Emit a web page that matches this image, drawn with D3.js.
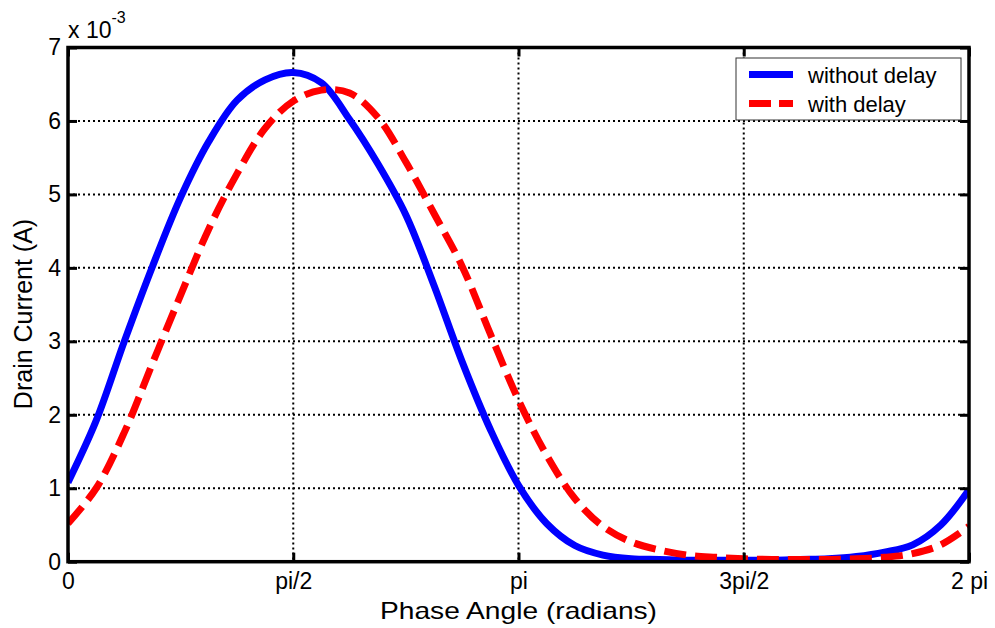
<!DOCTYPE html>
<html>
<head>
<meta charset="utf-8">
<script src="https://cdn.jsdelivr.net/npm/d3@7"></script>
<style>
  html, body { margin: 0; padding: 0; background: #fff; }
  svg { display: block; font-family: "Liberation Sans", Arial, sans-serif; }
</style>
</head>
<body>
<svg id="chart"></svg>
<script>
// phase angle in units of pi (sample points)
const phaseOverPi = [0, 0.0625, 0.125, 0.1875, 0.25, 0.3125, 0.375, 0.4375, 0.5,
  0.5625, 0.625, 0.6875, 0.75, 0.8125, 0.875, 0.9375, 1,
  1.0625, 1.125, 1.1875, 1.25, 1.3125, 1.375, 1.4375, 1.5,
  1.5625, 1.625, 1.6875, 1.75, 1.8125, 1.875, 1.9375, 2];

// drain current, x 10^-3 A
const withoutDelay = [1.08, 1.92, 3.0, 4.02, 4.96, 5.72, 6.28, 6.56, 6.66,
  6.52, 6.02, 5.42, 4.72, 3.76, 2.72, 1.8, 1.04,
  0.52, 0.22, 0.09, 0.04, 0.03, 0.02, 0.02, 0.02,
  0.02, 0.03, 0.04, 0.07, 0.13, 0.23, 0.5, 0.98];

const withDelay = [0.52, 1.0, 1.76, 2.7, 3.63, 4.53, 5.28, 5.9, 6.27,
  6.42, 6.38, 6.05, 5.44, 4.74, 4.02, 3.1, 2.2,
  1.45, 0.86, 0.48, 0.27, 0.16, 0.09, 0.06, 0.04,
  0.03, 0.03, 0.03, 0.04, 0.06, 0.11, 0.23, 0.48];

const xTicks = [0, 0.5, 1, 1.5, 2];
const xTickLabels = ["0", "pi/2", "pi", "3pi/2", "2 pi"];
const yTicks = [0, 1, 2, 3, 4, 5, 6, 7];

const seriesNames = ["without delay", "with delay"];

const width = 995;
const height = 628;
const margin = { top: 47.5, right: 26, bottom: 66.3, left: 68 };
const innerW = width - margin.left - margin.right;
const innerH = height - margin.top - margin.bottom;

const svg = d3.select("#chart").attr("width", width).attr("height", height);

const scaleX = d3.scaleLinear().domain([0, 2]).range([0, innerW]);
const scaleY = d3.scaleLinear().domain([0, 7]).range([innerH, 0]);

const g = svg.append("g")
    .attr("transform", `translate(${margin.left}, ${margin.top})`);

svg.append("defs").append("clipPath").attr("id", "plotClip")
  .append("rect").attr("x", 0).attr("y", 0).attr("width", innerW).attr("height", innerH);

// dotted grid
g.append("g").selectAll("line.gx")
  .data(xTicks.slice(1, -1))
  .enter().append("line")
  .attr("x1", d => scaleX(d)).attr("x2", d => scaleX(d))
  .attr("y1", 0).attr("y2", innerH)
  .attr("stroke", "#000").attr("stroke-width", 2).attr("stroke-dasharray", "2,3");

g.append("g").selectAll("line.gy")
  .data(yTicks.slice(1, -1))
  .enter().append("line")
  .attr("y1", d => scaleY(d)).attr("y2", d => scaleY(d))
  .attr("x1", 0).attr("x2", innerW)
  .attr("stroke", "#000").attr("stroke-width", 2).attr("stroke-dasharray", "2,3");

// curves
const lineGen = vals => d3.line()
  .x((d, i) => scaleX(phaseOverPi[i]))
  .y(d => scaleY(d))
  .curve(d3.curveCatmullRom.alpha(0.5))(vals);

const curves = g.append("g").attr("clip-path", "url(#plotClip)");

curves.append("path")
  .attr("d", lineGen(withoutDelay))
  .attr("fill", "none").attr("stroke", "#0000ff").attr("stroke-width", 7)
  .attr("stroke-linejoin", "round");

curves.append("path")
  .attr("d", lineGen(withDelay))
  .attr("fill", "none").attr("stroke", "#ff0000").attr("stroke-width", 7)
  .attr("stroke-dasharray", "22,9");

// axes (ticks inward, box on all four sides)
function styleAxis(sel) {
  sel.select(".domain").remove();
  sel.selectAll(".tick line").attr("stroke", "#000").attr("stroke-width", 3);
  sel.selectAll("text").attr("fill", "#000").style("font-size", "23px")
    .style("font-family", "'Liberation Sans', Arial, sans-serif");
}

const axB = g.append("g").attr("transform", `translate(0, ${innerH})`)
  .call(d3.axisBottom(scaleX).tickValues(xTicks)
    .tickFormat((d, i) => xTickLabels[i]).tickSize(-9).tickPadding(11));
styleAxis(axB);

const axT = g.append("g")
  .call(d3.axisTop(scaleX).tickValues(xTicks).tickFormat("").tickSize(-9));
styleAxis(axT);

const axL = g.append("g")
  .call(d3.axisLeft(scaleY).tickValues(yTicks).tickFormat(d3.format("d"))
    .tickSize(-9).tickPadding(7));
styleAxis(axL);

const axR = g.append("g").attr("transform", `translate(${innerW}, 0)`)
  .call(d3.axisRight(scaleY).tickValues(yTicks).tickFormat("").tickSize(-9));
styleAxis(axR);

g.append("rect")
  .attr("x", 0).attr("y", 0).attr("width", innerW).attr("height", innerH)
  .attr("fill", "none").attr("stroke", "#000").attr("stroke-width", 3.5);

// exponent label
const expo = svg.append("text")
  .attr("x", 68).attr("y", 38)
  .style("font-size", "23px").attr("fill", "#000");
expo.append("tspan").text("x 10");
expo.append("tspan").attr("dy", -15).style("font-size", "16px").text("-3");

// axis labels
svg.append("text")
  .attr("x", margin.left + innerW / 2).attr("y", 619)
  .attr("text-anchor", "middle")
  .attr("textLength", 277).attr("lengthAdjust", "spacingAndGlyphs")
  .style("font-size", "24px").attr("fill", "#000")
  .text("Phase Angle (radians)");

svg.append("text")
  .attr("transform", "translate(32, 314) rotate(-90)")
  .attr("text-anchor", "middle")
  .style("font-size", "25px").attr("fill", "#000")
  .text("Drain Current (A)");

// legend
const legend = svg.append("g").attr("transform", "translate(736, 58)");
legend.append("rect")
  .attr("width", 225).attr("height", 62)
  .attr("fill", "#fff").attr("stroke", "#333").attr("stroke-width", 1);

const legendColors = ["#0000ff", "#ff0000"];
const legendDash = [null, "22,8"];
seriesNames.forEach((name, i) => {
  const yy = 16.5 + i * 29;
  legend.append("line")
    .attr("x1", 13).attr("x2", 57).attr("y1", yy).attr("y2", yy)
    .attr("stroke", legendColors[i]).attr("stroke-width", 7)
    .attr("stroke-dasharray", legendDash[i]);
  legend.append("text")
    .attr("x", 72).attr("y", yy + 8)
    .style("font-size", "22px").attr("fill", "#000")
    .text(name);
});
</script>
</body>
</html>
